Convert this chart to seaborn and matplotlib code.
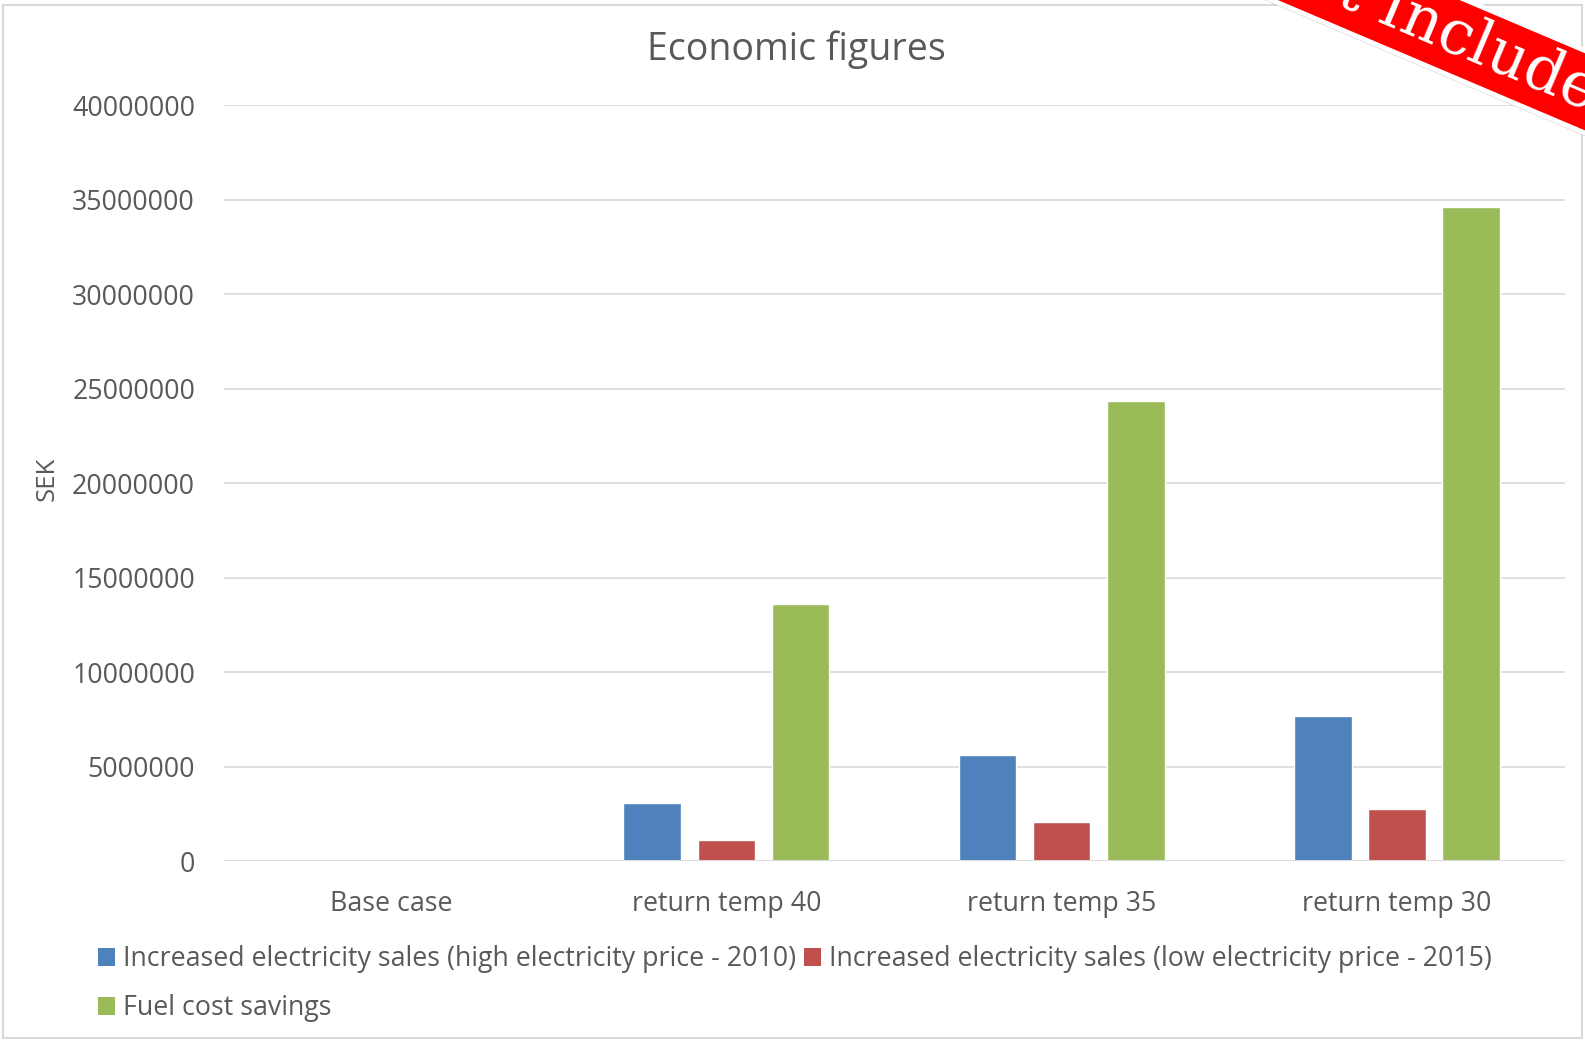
import matplotlib
matplotlib.use("Agg")
import matplotlib.pyplot as plt
import matplotlib.patheffects as pe
import seaborn as sns
import pandas as pd
from matplotlib.patches import Rectangle, Patch

# Scenarios and the three economic series (SEK)
scenarios = ["Base case", "return temp 40", "return temp 35", "return temp 30"]
series_names = [
    "Increased electricity sales (high electricity price - 2010)",
    "Increased electricity sales (low electricity price - 2015)",
    "Fuel cost savings",
]
elec_high_2010 = [0, 3050000, 5590000, 7700000]
elec_low_2015 = [0, 1110000, 2050000, 2750000]
fuel_savings = [0, 13590000, 24370000, 34610000]
y_ticks = [0, 5000000, 10000000, 15000000, 20000000, 25000000, 30000000, 35000000, 40000000]

colors = ["#4F81BD", "#C0504D", "#9BBB59"]
text_gray = "#595959"
grid_gray = "#D9D9D9"

rows = []
for name, vals in zip(series_names, [elec_high_2010, elec_low_2015, fuel_savings]):
    for sc, v in zip(scenarios, vals):
        rows.append({"scenario": sc, "series": name, "value": v})
df = pd.DataFrame(rows)

sns.set_theme(style="white")
plt.rcParams["font.family"] = ["Open Sans", "DejaVu Sans"]

W, H = 1585, 1041
fig = plt.figure(figsize=(W / 100, H / 100), dpi=100)
fig.patch.set_facecolor("white")

ax = fig.add_axes([223.5 / W, 1 - 861 / H, (1564.5 - 223.5) / W, (861 - 105.3) / H])
sns.barplot(
    data=df, x="scenario", y="value", hue="series",
    order=scenarios, hue_order=series_names,
    palette=colors, saturation=1, width=0.664, gap=0.223,
    ax=ax, legend=False, zorder=3,
)
ax.set_xlim(-0.5, 3.5)
ax.set_ylim(0, 40000000)
ax.set_yticks(y_ticks)
ax.set_yticklabels([str(t) for t in y_ticks])
ax.yaxis.grid(True, color=grid_gray, lw=1.2, zorder=0)
ax.set_axisbelow(True)
for s in ax.spines.values():
    s.set_visible(False)
ax.axhline(0, color=grid_gray, lw=1.4, zorder=4)
ax.tick_params(axis="both", length=0, labelsize=19.3, labelcolor=text_gray)
ax.tick_params(axis="y", pad=20.5)
ax.tick_params(axis="x", pad=21)
ax.set_xlabel("")
ax.set_ylabel("SEK", fontsize=18.5, color=text_gray)
ax.yaxis.set_label_coords((60 - 223.5) / (1564.5 - 223.5), 0.505)

fig.text(796 / W, 1 - 50 / H, "Economic figures", ha="center", va="center",
         fontsize=27, color=text_gray)

# legend: two entries on the first row, one on the second
handles = [Patch(facecolor=c, edgecolor="none") for c in colors]
order = [0, 2, 1]
fig.legend(
    [handles[i] for i in order], [series_names[i] for i in order],
    ncol=2, loc="upper left", bbox_to_anchor=(85 / W, 1 - 932 / H),
    frameon=False, fontsize=19.3, labelcolor=text_gray,
    handlelength=0.62, handleheight=0.62, handletextpad=0.3,
    columnspacing=0.3, labelspacing=0.78, borderpad=0,
)

# outer chart frame
fig.add_artist(Rectangle((3 / W, 3 / H), (W - 6) / W, (H - 8) / H,
                         transform=fig.transFigure, fill=False,
                         ec="#D9D9D9", lw=1.5))

# corner ribbon
ribbon = fig.text(1444 / W, 1 - 32 / H, "Not Included", rotation=-23,
                  rotation_mode="anchor", ha="center", va="center",
                  fontsize=44, color="white", family=["DejaVu Serif"],
                  bbox=dict(boxstyle="square,pad=0.13", fc="#FF0000", ec="white", lw=3.5))
ribbon.get_bbox_patch().set_path_effects(
    [pe.SimplePatchShadow(offset=(2, -3), shadow_rgbFace="#808080", alpha=0.5), pe.Normal()])

fig.savefig("out.png", dpi=100, facecolor="white")
